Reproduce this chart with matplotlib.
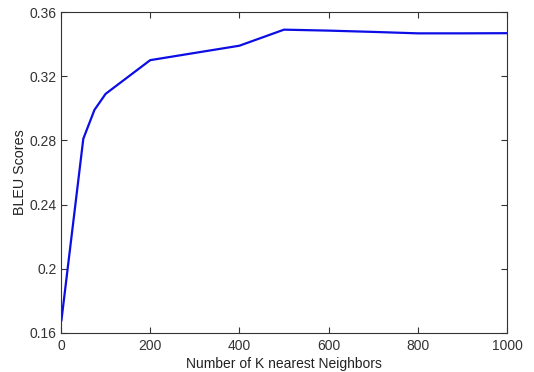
import matplotlib
matplotlib.use("Agg")
import matplotlib.pyplot as plt

k_values = [1, 50, 75, 100, 200, 400, 500, 600, 700, 800, 900, 1000]
bleu_scores = [0.168, 0.281, 0.299, 0.309, 0.330, 0.339, 0.349, 0.3484, 0.3476, 0.3467, 0.3467, 0.3468]

x_ticks = [0, 200, 400, 600, 800, 1000]
y_ticks = [0.16, 0.20, 0.24, 0.28, 0.32, 0.36]
y_tick_labels = ["0.16", "0.2", "0.24", "0.28", "0.32", "0.36"]

plt.rcParams['font.family'] = ['Liberation Sans', 'DejaVu Sans']
fig = plt.figure(figsize=(5.34, 3.72), dpi=100)
ax = fig.add_axes([61/534, 39/372, 446/534, 321/372])
ax.plot(k_values, bleu_scores, color=(0.05, 0.05, 0.9), linewidth=1.6)
ax.set_xlim(0, 1000)
ax.set_ylim(0.16, 0.36)
ax.set_xticks(x_ticks)
ax.set_xticklabels([str(t) for t in x_ticks])
ax.set_yticks(y_ticks)
ax.set_yticklabels(y_tick_labels)
ax.tick_params(direction='in', top=True, right=True, length=4, width=0.8,
               labelsize=10, colors='#333333')
ax.tick_params(axis='x', pad=4)
ax.tick_params(axis='y', pad=3)
for s in ax.spines.values():
    s.set_color('#333333')
    s.set_linewidth(0.8)
ax.set_xlabel("Number of K nearest Neighbors", fontsize=10, color='#222222', labelpad=3)
ax.set_ylabel("BLEU Scores", fontsize=10.3, color='#222222', labelpad=2)
fig.savefig("out.png", dpi=100)
